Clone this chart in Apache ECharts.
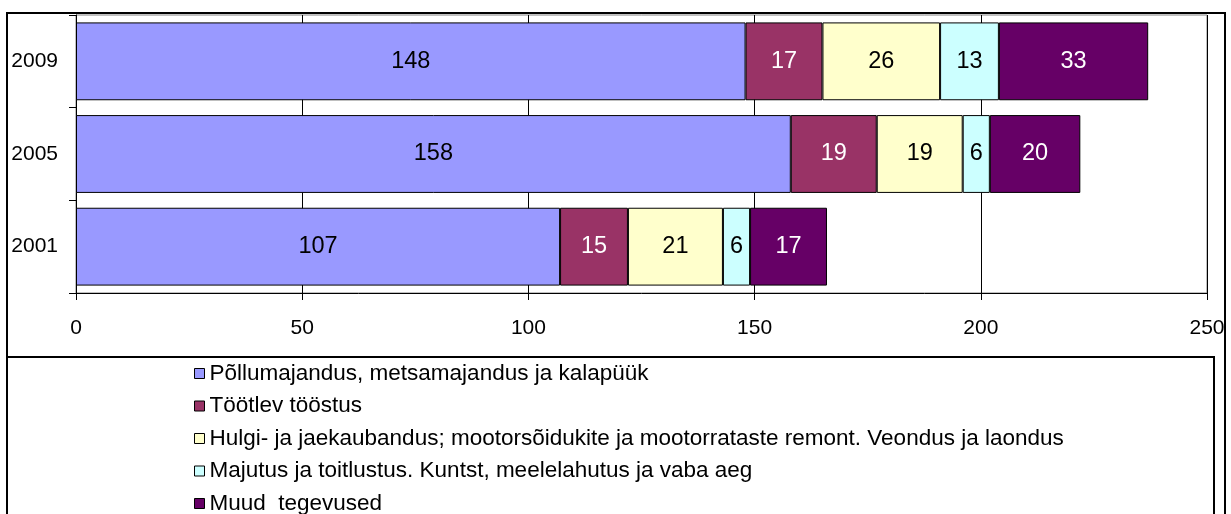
<!DOCTYPE html>
<html><head><meta charset="utf-8">
<script src="https://cdn.jsdelivr.net/npm/echarts@6/dist/echarts.min.js"></script>
<style>html,body{margin:0;padding:0;background:#fff;}#c{width:1231px;height:514px;}</style>
</head><body><div id="c"></div>
<script>
const categories = ['2001', '2005', '2009'];
const seriesNames = [
  'Põllumajandus, metsamajandus ja kalapüük',
  'Töötlev tööstus',
  'Hulgi- ja jaekaubandus; mootorsõidukite ja mootorrataste remont. Veondus ja laondus',
  'Majutus ja toitlustus. Kuntst, meelelahutus ja vaba aeg',
  'Muud  tegevused'
];
const pollumajandus = [107, 158, 148];
const tootlev = [15, 19, 17];
const hulgi = [21, 19, 26];
const majutus = [6, 6, 13];
const muud = [17, 20, 33];
const xTicks = [0, 50, 100, 150, 200, 250];

const values = [pollumajandus, tootlev, hulgi, majutus, muud];
const colors = ['#9999FF', '#993366', '#FFFFCC', '#CCFFFF', '#660066'];
const labelColors = ['#000', '#fff', '#000', '#000', '#fff'];
const FONT = '"Liberation Sans", Arial, sans-serif';

const chart = echarts.init(document.getElementById('c'), null, {renderer: 'canvas'});
chart.setOption({
  animation: false,
  backgroundColor: '#fff',
  grid: {left: 76, right: 24, top: 15, bottom: 221, show: true, borderColor: '#808080', borderWidth: 1, containLabel: false},
  xAxis: {
    type: 'value', min: xTicks[0], max: xTicks[xTicks.length - 1], interval: 50,
    axisLine: {show: true, lineStyle: {color: '#000', width: 1}},
    axisTick: {show: true, length: 7, lineStyle: {color: '#000'}},
    axisLabel: {color: '#000', fontSize: 21, fontFamily: FONT, margin: 25},
    splitLine: {show: true, lineStyle: {color: '#000', width: 1}}
  },
  yAxis: {
    type: 'category', data: categories,
    axisLine: {show: true, lineStyle: {color: '#000', width: 1}},
    axisTick: {show: true, length: 7, lineStyle: {color: '#000'}},
    axisLabel: {color: '#000', fontSize: 21, fontFamily: FONT, margin: 18}
  },
  legend: {
    orient: 'vertical', left: 189, top: 357, height: 300,
    itemWidth: 10, itemHeight: 10, itemGap: 9.5,
    icon: 'rect',
    textStyle: {color: '#000', fontSize: 22.5, fontFamily: FONT, lineHeight: 22, padding: [0, 0, 0, 0]},
    data: seriesNames.map((n, i) => ({name: n, itemStyle: {borderColor: '#000', borderWidth: 1}}))
  },
  graphic: [
    {type: 'rect', shape: {x: 7, y: 13, width: 1218, height: 520}, style: {fill: null, stroke: '#000', lineWidth: 2}, z: 100},
    {type: 'rect', shape: {x: 7, y: 357, width: 1207, height: 180}, style: {fill: null, stroke: '#000', lineWidth: 2}, z: 100}
  ],
  series: values.map((v, i) => ({
    name: seriesNames[i], type: 'bar', stack: 'total', data: v,
    barCategoryGap: '16%',
    itemStyle: {color: colors[i], borderColor: '#000', borderWidth: 1},
    label: {show: true, position: 'inside', color: labelColors[i], fontSize: 23.5, fontFamily: FONT}
  }))
});
</script></body></html>
